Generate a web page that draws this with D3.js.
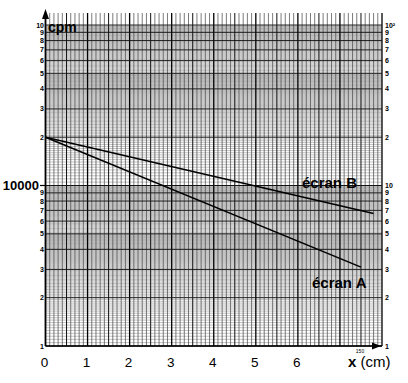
<!DOCTYPE html>
<html><head><meta charset="utf-8">
<script src="https://cdn.jsdelivr.net/npm/d3@7"></script>
<style>body{margin:0;background:#fff}svg{display:block}</style>
</head><body>
<script>
// ---- data ----
const xTickValues = [0, 1, 2, 3, 4, 5, 6];
const xDomain = [0, 8];
const yDomain = [1000, 100000];
const screenAX = [0, 7.5];
const screenACpm = [20000, 3100];
const screenBX = [0, 7.8];
const screenBCpm = [20000, 6700];
const decadeLabelsLower = ["1", "2", "3", "4", "5", "6", "7", "8", "9"];
const decadeLabelsUpper = ["2", "3", "4", "5", "6", "7", "8", "9"];

(function () {
const W = 408, H = 383;
const svg = d3.select("body").append("svg").attr("width", W).attr("height", H);
const x = d3.scaleLinear().domain(xDomain).range([45.5, 382]);
const y = d3.scaleLog().domain(yDomain).range([346, 25]);
const gridTop = 13;

const g = svg.append("g");
// horizontal grid lines
const hMinor = [], hMajor = [];
[1000, 10000].forEach(dec => {
  for (let m = 1; m < 2 - 1e-9; m += 0.05) hMinor.push(dec * m);
  for (let m = 2; m < 5 - 1e-9; m += 0.05) hMinor.push(dec * m);
  for (let m = 5; m < 10 - 1e-9; m += 0.1) hMinor.push(dec * m);
  for (let m = 1; m <= 10; m++) hMajor.push(dec * m);
});
g.selectAll(".hmin").data(hMinor).join("line")
  .attr("x1", x(0)).attr("x2", x(8))
  .attr("y1", d => y(d)).attr("y2", d => y(d))
  .attr("stroke", "#777").attr("stroke-width", 0.45);
// vertical grid
const vLines = d3.range(0, 81).map(i => i / 10);
g.selectAll(".v").data(vLines).join("line")
  .attr("x1", d => x(d)).attr("x2", d => x(d))
  .attr("y1", gridTop).attr("y2", y(1000))
  .attr("stroke", (d, i) => i % 10 === 0 ? "#000" : (i % 5 === 0 ? "#111" : "#444"))
  .attr("stroke-width", (d, i) => i % 10 === 0 ? 1.3 : (i % 5 === 0 ? 1.0 : 0.7));
g.selectAll(".hmaj").data(hMajor).join("line")
  .attr("x1", x(0)).attr("x2", x(8))
  .attr("y1", d => y(d)).attr("y2", d => y(d))
  .attr("stroke", "#111").attr("stroke-width", 0.9);

// axes lines with arrows
svg.append("line").attr("x1", x(0)).attr("x2", x(0)).attr("y1", y(1000)).attr("y2", gridTop + 4)
  .attr("stroke", "#000").attr("stroke-width", 1.6);
svg.append("path").attr("d", `M${x(0)},${gridTop - 4} L${x(0) - 3.5},${gridTop + 6} L${x(0) + 3.5},${gridTop + 6} Z`).attr("fill", "#000");
svg.append("line").attr("x1", x(0)).attr("x2", x(8)).attr("y1", y(1000)).attr("y2", y(1000))
  .attr("stroke", "#000").attr("stroke-width", 1.6);
svg.append("path").attr("d", `M${x(8) - 1},${y(1000)} L${x(8) - 10},${y(1000) - 3.5} L${x(8) - 10},${y(1000) + 3.5} Z`).attr("fill", "#000");

// data lines
const line = d3.line().x(d => x(d[0])).y(d => y(d[1]));
svg.append("path").datum(screenAX.map((v, i) => [v, screenACpm[i]]))
  .attr("d", line).attr("fill", "none").attr("stroke", "#000").attr("stroke-width", 1.5);
svg.append("path").datum(screenBX.map((v, i) => [v, screenBCpm[i]]))
  .attr("d", line).attr("fill", "none").attr("stroke", "#000").attr("stroke-width", 1.5);

// side labels
const sideFont = "Liberation Sans, Arial, sans-serif";
const labels = [];
decadeLabelsLower.forEach((t, i) => labels.push({v: 1000 * (i + 1), l: t, r: t}));
labels.push({v: 10000, l: null, r: "10"});
decadeLabelsUpper.forEach((t, i) => labels.push({v: 10000 * (i + 2), l: t, r: t}));
labels.push({v: 100000, l: "10", r: "10²"});

svg.selectAll(".ll").data(labels.filter(d => d.l)).join("text")
  .attr("x", 44).attr("y", d => y(d.v) + 2.5).attr("text-anchor", "end")
  .attr("font-family", sideFont).attr("font-weight", "bold").attr("font-size", 7)
  .text(d => d.l);
svg.selectAll(".rl").data(labels).join("text")
  .attr("x", 385).attr("y", d => y(d.v) + 2.5).attr("text-anchor", "start")
  .attr("font-family", sideFont).attr("font-weight", "bold").attr("font-size", 7)
  .text(d => d.r);

// 10000 label
svg.append("line").attr("x1", 40).attr("x2", x(0)).attr("y1", y(10000)).attr("y2", y(10000)).attr("stroke", "#000").attr("stroke-width", 1.2);
svg.append("text").attr("x", 39).attr("y", y(10000) + 4.5).attr("text-anchor", "end")
  .attr("font-family", sideFont).attr("font-weight", "bold").attr("font-size", 13).text("10000");

// x tick labels
svg.selectAll(".xt").data(xTickValues).join("text")
  .attr("x", d => x(d) - 1).attr("y", 367).attr("text-anchor", "middle")
  .attr("font-family", sideFont).attr("font-size", 13.5).text(d => d);

// small 150
svg.append("text").attr("x", 360).attr("y", 353).attr("text-anchor", "middle")
  .attr("font-family", sideFont).attr("font-size", 5).text("150");
// axis title x
const xt = svg.append("text").attr("x", 348).attr("y", 367).attr("font-family", sideFont).attr("font-size", 15);
xt.append("tspan").attr("font-weight", "bold").text("x");
xt.append("tspan").text(" (cm)");

// cpm
svg.append("text").attr("x", 48).attr("y", 32).attr("font-family", sideFont)
  .attr("font-weight", "bold").attr("font-size", 14).text("cpm");
// screen labels
svg.append("text").attr("x", 302).attr("y", 188).attr("font-family", sideFont)
  .attr("font-weight", "bold").attr("font-size", 15).text("écran B");
svg.append("text").attr("x", 312).attr("y", 288).attr("font-family", sideFont)
  .attr("font-weight", "bold").attr("font-size", 15).text("écran A");
})();
</script>
</body></html>
